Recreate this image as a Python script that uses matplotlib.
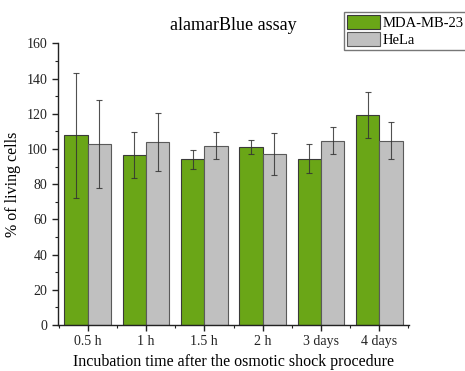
import matplotlib
matplotlib.use("Agg")
import matplotlib.pyplot as plt
import numpy as np
from matplotlib.ticker import MultipleLocator
from matplotlib.patches import Patch

categories = ["0.5 h", "1 h", "1.5 h", "2 h", "3 days", "4 days"]
mda_values = [107.7, 96.4, 94.1, 101.3, 94.5, 119.3]
mda_errors = [35.3, 13.0, 5.5, 4.0, 8.3, 13.3]
hela_values = [102.6, 103.8, 101.9, 97.0, 104.7, 104.7]
hela_errors = [25.0, 16.5, 7.6, 12.0, 7.8, 10.5]
series_names = ["MDA-MB-23", "HeLa"]

plt.rcParams['font.family'] = ['Liberation Serif', 'DejaVu Serif']

fig = plt.figure(figsize=(4.65, 3.71), dpi=100)
ax = fig.add_axes([58/465, 1-325/371, (409-58)/465, (325-43.3)/371])

x = np.arange(len(categories))
w = 0.4
green = "#6AA617"
grey = "#C0C0C0"
err_kw = dict(ecolor="#333333", elinewidth=0.8, capsize=2.5, capthick=0.8, alpha=0.85)
ax.bar(x - w/2, mda_values, w, yerr=mda_errors, color=green, edgecolor="#3a3a3a",
       linewidth=0.8, error_kw=err_kw, zorder=2)
ax.bar(x + w/2, hela_values, w, yerr=hela_errors, color=grey, edgecolor="#5a5a5a",
       linewidth=0.8, error_kw=err_kw, zorder=2)

ax.set_xlim(-0.51, 5.51)
ax.set_ylim(0, 160)
ax.set_xticks(x)
ax.set_xticklabels(categories)
ax.xaxis.set_minor_locator(MultipleLocator(0.5))
ax.yaxis.set_major_locator(MultipleLocator(20))
ax.yaxis.set_minor_locator(MultipleLocator(10))
for s in ["top", "right"]:
    ax.spines[s].set_visible(False)
for s in ["left", "bottom"]:
    ax.spines[s].set_linewidth(1.0)
    ax.spines[s].set_color("#222222")
ax.tick_params(axis="both", which="major", direction="out", length=4, width=1.0,
               labelsize=10, colors="#222222")
ax.tick_params(axis="both", which="minor", direction="out", length=2, width=0.8, colors="#222222")

ax.set_ylabel("% of living cells", fontsize=11.5)
ax.set_xlabel("Incubation time after the osmotic shock procedure", fontsize=11.5, labelpad=4)
fig.text(233.5/465, 1-25/371, "alamarBlue assay", ha="center", va="center", fontsize=13)

handles = [Patch(facecolor=green, edgecolor="#3a3a3a", linewidth=0.8),
           Patch(facecolor=grey, edgecolor="#5a5a5a", linewidth=0.8)]
leg = fig.legend(handles, series_names, loc="upper left",
                 bbox_to_anchor=(344/465, 1-11.7/371), fontsize=10.5,
                 frameon=True, fancybox=False, edgecolor="#555555",
                 handlelength=2.3, handleheight=1.15, handletextpad=0.15,
                 borderpad=0.2, labelspacing=0.15, borderaxespad=0)
leg.get_frame().set_linewidth(1.0)

fig.savefig("out.png", dpi=100, facecolor="white")
